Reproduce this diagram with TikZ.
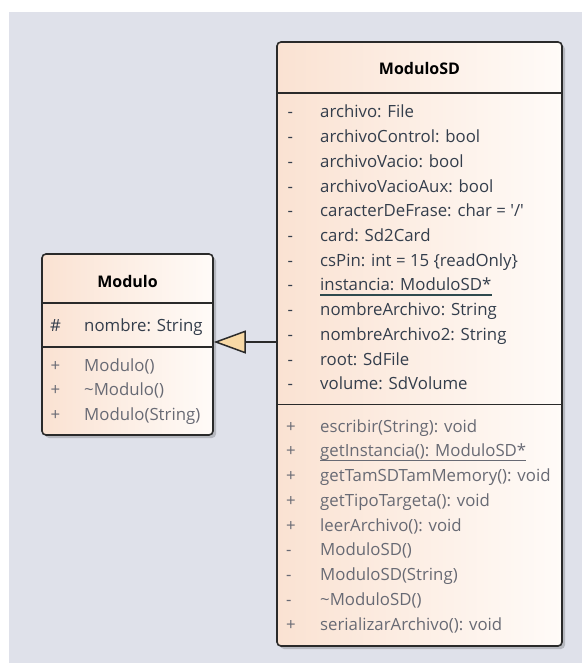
\documentclass[tikz,border=0pt]{standalone}
\usepackage{fontspec}
\setmainfont{Open Sans}
\usetikzlibrary{arrows.meta,shadows}

\definecolor{canvas}{HTML}{DFE1EA}
\definecolor{boxleft}{HTML}{FAE2D2}
\definecolor{boxright}{HTML}{FFFBF8}
\definecolor{edge}{HTML}{2A2A2A}
\definecolor{attrtext}{HTML}{343E4C}
\definecolor{optext}{HTML}{686A74}
\definecolor{statline}{HTML}{2E4A4E}
\definecolor{trifill}{HTML}{F8D9A6}

\tikzset{
  classbox/.style={draw=edge, line width=1.6pt, rounded corners=4pt,
    left color=boxleft, right color=boxright, inner sep=0pt,
    drop shadow={shadow xshift=3pt, shadow yshift=-3pt, opacity=0.18, fill=black}},
  divider/.style={draw=edge, line width=1.5pt},
  title/.style={font=\bfseries\fontsize{16}{19}\selectfont, text=black, anchor=base, inner sep=0pt},
  vis/.style={font=\fontsize{16.8}{19}\selectfont, anchor=base west, inner sep=0pt},
  member/.style={font=\fontsize{16.8}{19}\selectfont, anchor=base west, inner sep=0pt},
  attr/.style={member, text=attrtext},
  op/.style={member, text=optext},
  inherits/.style={draw=edge, line width=1.5pt,
    -{Triangle[length=32pt, width=23pt, fill=trifill, line join=miter]}},
}

\begin{document}
\begin{tikzpicture}[x=1pt, y=-1pt]
  \useasboundingbox (0,0) rectangle (582,663);
  \fill[white] (0,0) rectangle (582,663);
  \fill[canvas] (9,12) rectangle (582,663);

  % class boxes
  \node[classbox, minimum width=285pt, minimum height=604pt] (sd) at (419.5,344) {};
  \node[classbox, minimum width=171pt, minimum height=181pt] (mod) at (127.5,344.5) {};

  % compartment dividers
  \draw[divider] (sd.west |- 0,93) -- (sd.east |- 0,93);
  \draw[divider] (sd.west |- 0,404.5) -- (sd.east |- 0,404.5);
  \draw[divider] (mod.west |- 0,303) -- (mod.east |- 0,303);
  \draw[divider] (mod.west |- 0,347) -- (mod.east |- 0,347);

  % ModuloSD
  \node[title] (sdname) at (419.5,75) {ModuloSD};
  \foreach \t [count=\i from 0] in {%
      {archivo: File},
      {archivoControl: bool},
      {archivoVacio: bool},
      {archivoVacioAux: bool},
      {caracterDeFrase: char = \textquotesingle/\textquotesingle},
      {card: Sd2Card},
      {csPin: int = 15 \{readOnly\}},
      {},
      {nombreArchivo: String},
      {nombreArchivo2: String},
      {root: SdFile},
      {volume: SdVolume}} {
    \node[vis, text=attrtext] (sdav\i) at (287.5,118+24.7*\i) {-};
    \node[attr] (sda\i) at (320,118+24.7*\i) {\t};
  }
  \node[attr] (sdstatic) at (320,118+24.7*7) {instancia: ModuloSD*};
  \draw[statline, line width=1.2pt] ([yshift=-4pt]sdstatic.base west) -- ([yshift=-4pt]sdstatic.base east);

  \foreach \v/\t [count=\i from 0] in {%
      +/{escribir(String): void},
      +/{},
      +/{getTamSDTamMemory(): void},
      +/{getTipoTargeta(): void},
      +/{leerArchivo(): void},
      -/{ModuloSD()},
      -/{ModuloSD(String)},
      -/{\textasciitilde ModuloSD()},
      +/{serializarArchivo(): void}} {
    \node[vis, text=optext] (sdov\i) at (286,432+24.75*\i) {\v};
    \node[op] (sdo\i) at (320,432+24.75*\i) {\t};
  }
  \node[op] (sdgetinst) at (320,432+24.75) {getInstancia(): ModuloSD*};
  \draw[optext, line width=1.2pt] ([yshift=-4pt]sdgetinst.base west) -- ([yshift=-4pt]sdgetinst.base east);

  % Modulo
  \node[title] (modname) at (127.5,287.5) {Modulo};
  \node[vis, text=attrtext] (modav) at (50,331.5) {\#};
  \node[attr] (moda) at (84,331.5) {nombre: String};
  \foreach \t [count=\i from 0] in {{Modulo()}, {\textasciitilde Modulo()}, {Modulo(String)}} {
    \node[vis, text=optext] (modov\i) at (50.5,371+24.6*\i) {+};
    \node[op] (modo\i) at (84,371+24.6*\i) {\t};
  }

  % generalization
  \coordinate (joint) at (sd.west |- 0,342);
  \draw[inherits] (joint) -- (joint -| mod.east);
\end{tikzpicture}
\end{document}
